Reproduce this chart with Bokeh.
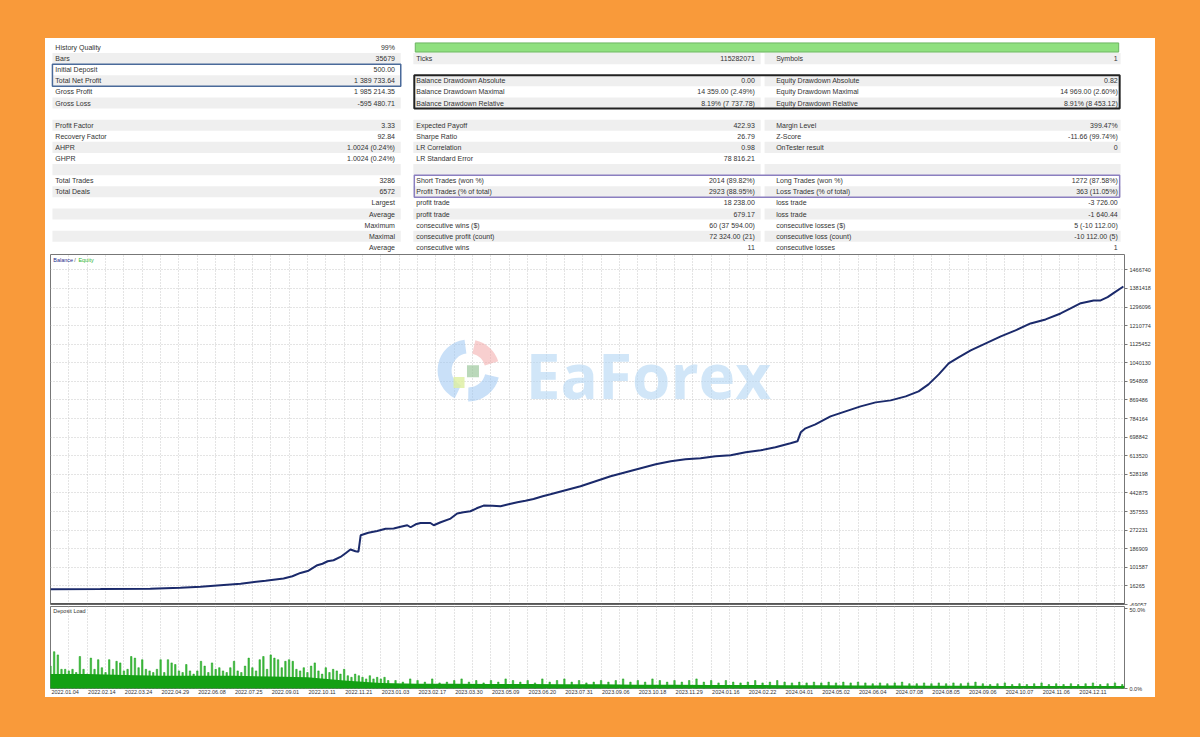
from bokeh.plotting import figure
from bokeh.layouts import column, row
from bokeh.models import Range1d, FixedTicker, Grid, Span, Spacer
from bokeh.core.properties import value
from bokeh.embed import file_html
from bokeh.resources import INLINE

# ---------------- data ----------------
col1_labels = ["History Quality", "Bars", "Initial Deposit", "Total Net Profit", "Gross Profit",
               "Gross Loss", "", "Profit Factor", "Recovery Factor", "AHPR", "GHPR", "",
               "Total Trades", "Total Deals", "", "", "", "", ""]
col1_values = ["99%", "35679", "500.00", "1 389 733.64", "1 985 214.35", "-595 480.71", "",
               "3.33", "92.84", "1.0024 (0.24%)", "1.0024 (0.24%)", "", "3286", "6572",
               "Largest", "Average", "Maximum", "Maximal", "Average"]
col2_labels = ["", "Ticks", "", "Balance Drawdown Absolute", "Balance Drawdown Maximal",
               "Balance Drawdown Relative", "", "Expected Payoff", "Sharpe Ratio", "LR Correlation",
               "LR Standard Error", "", "Short Trades (won %)", "Profit Trades (% of total)",
               "profit trade", "profit trade", "consecutive wins ($)", "consecutive profit (count)",
               "consecutive wins"]
col2_values = ["", "115282071", "", "0.00", "14 359.00 (2.49%)", "8.19% (7 737.78)", "", "422.93",
               "26.79", "0.98", "78 816.21", "", "2014 (89.82%)", "2923 (88.95%)", "18 238.00",
               "679.17", "60 (37 594.00)", "72 324.00 (21)", "11"]
col3_labels = ["", "Symbols", "", "Equity Drawdown Absolute", "Equity Drawdown Maximal",
               "Equity Drawdown Relative", "", "Margin Level", "Z-Score", "OnTester result", "", "",
               "Long Trades (won %)", "Loss Trades (% of total)", "loss trade", "loss trade",
               "consecutive losses ($)", "consecutive loss (count)", "consecutive losses"]
col3_values = ["", "1", "", "0.82", "14 969.00 (2.60%)", "8.91% (8 453.12)", "", "399.47%",
               "-11.66 (99.74%)", "0", "", "", "1272 (87.58%)", "363 (11.05%)", "-3 726.00",
               "-1 640.44", "5 (-10 112.00)", "-10 112.00 (5)", "1"]

x_tick_labels = ["2022.01.04", "2022.02.14", "2022.03.24", "2022.04.29", "2022.06.08", "2022.07.25",
                 "2022.09.01", "2022.10.11", "2022.11.21", "2023.01.03", "2023.02.17", "2023.03.30",
                 "2023.05.09", "2023.06.20", "2023.07.31", "2023.09.06", "2023.10.18", "2023.11.29",
                 "2024.01.16", "2024.02.22", "2024.04.01", "2024.05.02", "2024.06.04", "2024.07.08",
                 "2024.08.05", "2024.09.06", "2024.10.07", "2024.11.06", "2024.12.11"]
bal_tick_labels = ["-69057", "16265", "101587", "186909", "272231", "357553", "442875", "528198",
                   "613520", "698842", "784164", "869486", "954808", "1040130", "1125452", "1210774",
                   "1296096", "1381418", "1466740"]

bal_x = [0, 13.6, 27.2, 35.4, 40.9, 46.3, 51.8, 54.5, 58.6, 63.5,
         65.9, 68.1, 70.3, 72.7, 74.1, 75.5, 77.1, 79.0, 80.4, 81.7,
         83.1, 83.9, 84.5, 86.6, 89.0, 91.3, 93.5, 95.4, 97.2, 98.1,
         99.5, 100.8, 103.5, 104.4, 106.3, 109.0, 110.8, 112.5, 114.4, 116.1,
         118.0, 120.4, 122.6, 124.8, 127.2, 129.4, 131.6, 134.1, 136.2, 140.3,
         144.4, 148.5, 152.6, 156.7, 160.8, 164.9, 169.0, 173.0, 177.1, 181.2,
         185.3, 189.4, 193.5, 197.5, 201.6, 203.5, 204.4, 205.7, 208.4, 212.5,
         216.6, 220.7, 224.8, 228.9, 233.0, 236.5, 239.2, 242.0, 244.7, 247.4,
         250.7, 254.8, 258.9, 262.9, 267.0, 271.1, 275.2, 277.9, 280.7, 284.2,
         286.1, 288.0, 289.6, 292.3]
bal_y = [500, 1500, 3500, 8000, 12600, 19500, 26400, 31900, 40100, 50200,
         60700, 75900, 86000, 111200, 118000, 129500, 134100, 149200, 166200, 183200,
         175400, 173100, 248700, 260200, 268400, 278500, 279400, 287700, 294600, 285400,
         299100, 305100, 305100, 294600, 308300, 325300, 348200, 354200, 358800, 372500,
         384900, 384000, 381700, 390900, 400000, 406900, 415200, 427500, 436700, 455000,
         473400, 496300, 519200, 537600, 555900, 574300, 588000, 597200, 601800, 611000,
         615600, 629300, 638500, 652300, 670600, 679800, 721000, 739300, 757700, 794400,
         817300, 840200, 858500, 867700, 886000, 909000, 941100, 986900, 1037400, 1064900,
         1097000, 1129100, 1161200, 1188700, 1220800, 1239100, 1266600, 1289600, 1313800, 1326200,
         1326200, 1341300, 1359700, 1390200]

dep_x = list(range(0, 93)) + list(range(94, 293, 2))
dep_load = [14, 23, 21, 12, 12, 11, 12, 10, 20, 12,
            9, 19, 12, 18, 13, 10, 18, 12, 17, 16,
            11, 12, 20, 19, 13, 18, 12, 11, 10, 12,
            18, 10, 18, 16, 15, 11, 10, 15, 11, 9,
            11, 17, 14, 10, 16, 12, 13, 11, 10, 13,
            17, 11, 10, 14, 19, 13, 11, 18, 20, 12,
            21, 19, 18, 13, 17, 18, 17, 12, 11, 13,
            10, 14, 16, 11, 9, 13, 10, 12, 11, 9,
            12, 8, 7, 9, 8, 7, 6, 8, 6, 7,
            6, 7, 5,
            5, 4, 6, 5, 4, 6, 3.5, 4, 5, 6,
            4, 5, 3.5, 5, 4, 6, 5, 4, 5, 3.5,
            6, 4, 5, 6, 4, 5, 3.5, 4, 5, 4,
            5, 6, 4, 5, 4, 6, 5, 4, 5, 4,
            5, 6, 4, 5, 3.5, 5, 4, 3.5, 4, 5,
            3.5, 4, 5, 4, 3.5, 4, 3.5, 4, 3.5, 4,
            3.5, 4, 3.5, 4, 3.5, 3, 3.5, 3, 3.5, 4,
            3, 3, 3.5, 3, 3.5, 3, 3.5, 3, 3.5, 4,
            3, 2.5, 3, 3.5, 2.5, 3, 2.5, 3, 3.5, 2.5,
            3, 2.5, 3, 2.5, 3, 3.5, 2.5, 3, 3.5, 2.5]
dep_base_x = [0, 10, 20, 30, 40, 50, 60, 70, 80, 90, 100, 110, 120, 130, 140, 150, 160, 170, 180,
              190, 200, 210, 220, 230, 240, 250, 260, 270, 280, 292.6]
dep_base = [9, 9, 8.5, 8, 8, 8, 7.5, 7, 5, 3.5, 3, 3, 2.8, 2.8, 2.6, 2.6, 2.4, 2.4, 2.2,
            2.2, 2, 2, 1.8, 1.8, 1.7, 1.7, 1.6, 1.6, 1.5, 1.5]

# ---------------- styles ----------------
ORANGE = "#F99A3A"
FONT = "Liberation Sans"
TXT = "#333333"
GRID = "#C8C8C8"
PANEL_W = 1110

# ---------------- table ----------------
ROW_H = 11.1
ROW0 = 9.0
t = figure(width=PANEL_W, height=214, x_range=Range1d(0, PANEL_W), y_range=Range1d(214, 0),
           output_backend="svg", toolbar_location=None, x_axis_location=None, y_axis_location=None,
           min_border=0)
t.outline_line_color = None
t.grid.visible = False
t.background_fill_color = "white"
t.border_fill_color = "white"

rows = list(range(len(col1_labels)))
ys = [ROW0 + ROW_H * r for r in rows]
col_spans = [(2, 362), (375, 734), (738, 1106)]
sh_l, sh_r, sh_t, sh_b = [], [], [], []
for r in rows:
    if r % 2 == 1:
        for (a, b_) in col_spans:
            sh_l.append(a); sh_r.append(b_)
            sh_t.append(ys[r] - ROW_H / 2); sh_b.append(ys[r] + ROW_H / 2)
t.quad(left=sh_l, right=sh_r, top=sh_t, bottom=sh_b, fill_color="#EFEFEF", line_color=None)

t.quad(left=[377], right=[1104], top=[ys[0] - ROW_H / 2 + 1], bottom=[ys[0] + ROW_H / 2 - 1],
       fill_color="#8FE07F", line_color="#6DB463", line_width=1)

t.quad(left=[2], right=[362], top=[ys[2] - ROW_H / 2], bottom=[ys[3] + ROW_H / 2],
       fill_alpha=0, line_color="#4A6A9A", line_width=1.5)
t.quad(left=[376], right=[1105], top=[ys[3] - ROW_H / 2], bottom=[ys[5] + ROW_H / 2],
       fill_alpha=0, line_color="#222222", line_width=2)
t.quad(left=[376], right=[1105], top=[ys[12] - ROW_H / 2], bottom=[ys[13] + ROW_H / 2],
       fill_alpha=0, line_color="#8B7FC0", line_width=1.5)

def put(xpos, texts, align):
    t.text(x=[xpos] * len(texts), y=ys, text=texts, text_font=value(FONT), text_font_size="7px",
           text_color=TXT, text_baseline="middle", text_align=align)

put(5, col1_labels, "left")
put(356, col1_values, "right")
put(378, col2_labels, "left")
put(728, col2_values, "right")
put(750, col3_labels, "left")
put(1103, col3_values, "right")

# ---------------- balance chart ----------------
X_END = 292.6
Y_LO, Y_HI = -69057, 1537110
grid_x = [5 * k for k in range(59)]
x_ticks = [4 + 10 * k for k in range(len(x_tick_labels))]
bal_ticks = [int(s) for s in bal_tick_labels]

b = figure(width=PANEL_W, height=354, x_range=Range1d(0, X_END), y_range=Range1d(Y_LO, Y_HI),
           output_backend="svg", toolbar_location=None, x_axis_location=None,
           y_axis_location="right", min_border_left=5, min_border_right=31,
           min_border_top=2, min_border_bottom=2)
b.background_fill_color = "white"
b.border_fill_color = "white"
b.outline_line_color = "#777777"
b.outline_line_width = 1
b.xgrid.visible = False
ytk = FixedTicker(ticks=bal_ticks)
b.yaxis.ticker = ytk
b.ygrid.ticker = ytk
b.yaxis.major_label_overrides = {v: s for v, s in zip(bal_ticks, bal_tick_labels)}
b.yaxis.axis_line_color = None
b.yaxis.major_tick_out = 3
b.yaxis.major_tick_in = 0
b.yaxis.major_tick_line_color = "#777777"
b.yaxis.minor_tick_line_color = None
b.yaxis.major_label_text_font_size = "5.5px"
b.yaxis.major_label_text_font = FONT
b.yaxis.major_label_text_color = TXT
b.yaxis.major_label_standoff = 2
b.ygrid.grid_line_color = GRID
b.ygrid.grid_line_dash = "1 2"
b.add_layout(Grid(dimension=0, ticker=FixedTicker(ticks=grid_x), grid_line_color=GRID,
                  grid_line_dash="1 2"))

# watermark (logo + word)
WX, WY = 113.9, 1005200
for a0, a1, col in [(1.7, 4.25, "#9CC6F2"), (4.7, 6.05, "#9CC6F2"), (0.3, 1.35, "#F2A8A8")]:
    b.annular_wedge(x=[WX], y=[WY], inner_radius=17, outer_radius=31, inner_radius_units="screen",
                    outer_radius_units="screen", start_angle=a0, end_angle=a1, fill_color=col,
                    fill_alpha=0.55, line_color=None)
b.rect(x=[WX + 1.2], y=[WY - 4000], width=12, height=12, width_units="screen",
       height_units="screen", fill_color="#9CC79C", fill_alpha=0.7, line_color=None)
b.rect(x=[WX - 2.6], y=[WY - 56000], width=11, height=11, width_units="screen",
       height_units="screen", fill_color="#DDEFA0", fill_alpha=0.8, line_color=None)
b.text(x=[129.5], y=[WY - 20000], text=["EaForex"], text_font=value("Open Sans"),
       text_font_style="bold", text_font_size="62px", text_color="#B3D6F4", text_alpha=0.6,
       text_baseline="middle", text_align="left")

b.line(bal_x, bal_y, line_color="#1B2A6B", line_width=2)
b.add_layout(Span(location=Y_LO, dimension="width", line_color="#555555", line_width=3))

ytop = Y_HI - 5 * (Y_HI - Y_LO) / 350
b.text(x=[0.75], y=[ytop], text=["Balance"], text_font=value(FONT), text_font_size="5.5px",
       text_color="#1B2A8B", text_baseline="middle")
b.text(x=[6.5], y=[ytop], text=["/"], text_font=value(FONT), text_font_size="5.5px",
       text_color="#555555", text_baseline="middle")
b.text(x=[7.6], y=[ytop], text=["Equity"], text_font=value(FONT), text_font_size="5.5px",
       text_color="#2DB52D", text_baseline="middle")

# ---------------- deposit load ----------------
D_HI = 51.25
d = figure(width=PANEL_W, height=91, x_range=b.x_range, y_range=Range1d(0, D_HI),
           output_backend="svg", toolbar_location=None, y_axis_location="right",
           min_border_left=5, min_border_right=31, min_border_top=0, min_border_bottom=9)
d.background_fill_color = "white"
d.border_fill_color = "white"
d.outline_line_color = "#777777"
d.xgrid.visible = False
d.ygrid.visible = False
d.add_layout(Grid(dimension=0, ticker=FixedTicker(ticks=grid_x), grid_line_color=GRID,
                  grid_line_dash="1 2"))
d.vbar(x=dep_x, top=dep_load, bottom=0, width=0.4, fill_color="#45C045", line_color="#129A12",
       line_width=0.5)
d.varea(x=dep_base_x, y1=[0] * len(dep_base_x), y2=dep_base, fill_color="#13A013")

d.xaxis.ticker = FixedTicker(ticks=x_ticks)
d.xaxis.major_label_overrides = {v: s for v, s in zip(x_ticks, x_tick_labels)}
d.xaxis.axis_line_color = None
d.xaxis.major_tick_line_color = None
d.xaxis.minor_tick_line_color = None
d.xaxis.major_tick_out = 0
d.xaxis.major_label_standoff = 1
d.xaxis.major_label_text_font_size = "5.5px"
d.xaxis.major_label_text_font = FONT
d.xaxis.major_label_text_color = TXT

d.yaxis.ticker = FixedTicker(ticks=[0, 50])
d.yaxis.major_label_overrides = {0: "0.0%", 50: "50.0%"}
d.yaxis.axis_line_color = None
d.yaxis.major_tick_out = 3
d.yaxis.major_tick_in = 0
d.yaxis.major_tick_line_color = "#777777"
d.yaxis.minor_tick_line_color = None
d.yaxis.major_label_text_font_size = "5.5px"
d.yaxis.major_label_text_font = FONT
d.yaxis.major_label_text_color = TXT
d.yaxis.major_label_standoff = 2

d.text(x=[0.75], y=[D_HI - 4 * D_HI / 82], text=["Deposit Load"], text_font=value(FONT),
       text_font_size="5.5px", text_color=TXT, text_baseline="middle")

# ---------------- page ----------------
panel = column(t, b, d, spacing=0, styles={"background-color": "white"})
body = row(Spacer(width=45, height=659), panel, Spacer(width=45, height=659), spacing=0)
page = column(Spacer(width=1200, height=38), body, Spacer(width=1200, height=40), spacing=0,
              styles={"background-color": ORANGE})

open("out.html", "w").write(file_html(page, INLINE))
